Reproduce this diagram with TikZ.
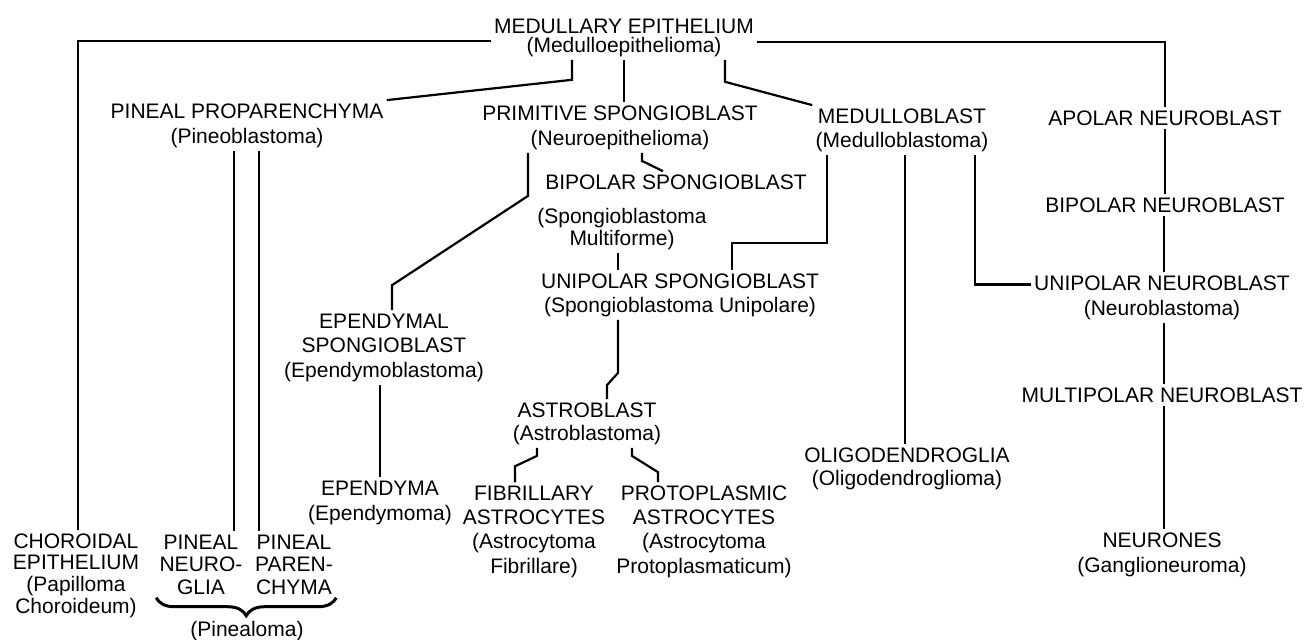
\documentclass[tikz,border=0pt]{standalone}
\usepackage{fontspec}
\setmainfont{Liberation Sans}
\usetikzlibrary{calc,decorations.pathreplacing}
\begin{document}
\begin{tikzpicture}[x=0.5pt,y=-0.5pt,
  lbl/.style={inner sep=1.5pt, align=center, font=\fontsize{10.5}{12}\selectfont},
  sk/.style={font=\fontsize{10.5}{#1}\selectfont},
  conn/.style={line width=1.1pt, line join=miter},
  brc/.style={line width=1.5pt, decorate, decoration={brace, mirror, amplitude=9pt}}]
\useasboundingbox[fill=white] (0,0) rectangle (1304,639);

\node[lbl, sk=9.5] (me) at (624,37.5) {MEDULLARY EPITHELIUM\\(Medulloepithelioma)};
\node[lbl,sk=12.5] (pp) at (247,125.5) {PINEAL PROPARENCHYMA\\(Pineoblastoma)};
\node[lbl,sk=12.5] (ps) at (620,127.5) {PRIMITIVE SPONGIOBLAST\\(Neuroepithelioma)};
\node[lbl,sk=12] (mb) at (902,130) {MEDULLOBLAST\\(Medulloblastoma)};
\node[lbl] (an) at (1165,118) {APOLAR NEUROBLAST};
\node[lbl] (bs) at (676,182) {BIPOLAR SPONGIOBLAST};
\node[lbl,sk=11] (sm) at (622,229) {(Spongioblastoma\\Multiforme)};
\node[lbl,sk=12] (us) at (680,295) {UNIPOLAR SPONGIOBLAST\\(Spongioblastoma Unipolare)};
\node[lbl,sk=12.25] (es) at (384,347.5) {EPENDYMAL\\SPONGIOBLAST\\(Ependymoblastoma)};
\node[lbl,sk=11.5] (ab) at (587,423.5) {ASTROBLAST\\(Astroblastoma)};
\node[lbl,sk=12.5] (ep) at (380,502.5) {EPENDYMA\\(Ependymoma)};
\node[lbl,sk=12.15] (fa) at (534,531.5) {FIBRILLARY\\ASTROCYTES\\(Astrocytoma\\Fibrillare)};
\node[lbl,sk=12.15] (pa) at (704,531.5) {PROTOPLASMIC\\ASTROCYTES\\(Astrocytoma\\Protoplasmaticum)};
\node[lbl,sk=11.5] (og) at (907,468.5) {OLIGODENDROGLIA\\(Oligodendroglioma)};
\node[lbl] (bn) at (1165,205) {BIPOLAR NEUROBLAST};
\node[lbl,sk=12.5] (un) at (1162,297.5) {UNIPOLAR NEUROBLAST\\(Neuroblastoma)};
\node[lbl] (mn) at (1162,395) {MULTIPOLAR NEUROBLAST};
\node[lbl,sk=12.5] (nr) at (1162,554.5) {NEURONES\\(Ganglioneuroma)};
\node[lbl,sk=10.85] (ce) at (76,575.5) {CHOROIDAL\\EPITHELIUM\\(Papilloma\\Choroideum)};
\node[lbl,sk=11.25] (pn) at (201,564.5) {PINEAL\\NEURO-\\GLIA};
\node[lbl,sk=11.25] (pc) at (294,564.5) {PINEAL\\PAREN-\\CHYMA};
\node[lbl] (pl) at (247,631) {(Pinealoma)};

\draw[conn] ($(me.west)+(0,3.5)$) -| ($(ce.north)+(2,0)$);
\draw[conn] ($(me.east)+(0,4.5)$) -| (an.north);
\draw[conn] ($(me.south)+(-52,0)$) -- ++(0,20) -- (pp.north east);
\draw[conn] (me.south) -- (me.south |- ps.north);
\draw[conn] ($(me.south)+(101,0)$) -- ++(0,22) -- (mb.north west);
\draw[conn] ($(ps.south)+(22,0)$) -- ++(0,8) -- ($(bs.north)+(-13,0)$);
\draw[conn] ($(ps.south)+(-92,0)$) -- ++(0,43) -- ($(es.north)+(8,-25)$) -- ($(es.north)+(8,0)$);
\draw[conn] ($(mb.south)+(-75,0)$) |- ($(us.north)+(52,-27)$) -- ($(us.north)+(52,0)$);
\draw[conn] ($(mb.south)+(3,0)$) coordinate (m1) -- (m1 |- og.north);
\draw[conn] ($(mb.south)+(73,0)$) |- ($(un.west)+(0,-13)$);
\draw[conn] ($(sm.south)+(-4,0)$) coordinate (k1) -- (k1 |- us.north);
\draw[conn] ($(us.south)+(-62,0)$) -- ++(0,53) -- ($(ab.north)+(20,-14)$) -- ($(ab.north)+(20,0)$);
\draw[conn] ($(ab.south)+(-50,0)$) -- ++(0,8) -- ($(fa.north)+(-19,-16)$) -- ($(fa.north)+(-19,0)$);
\draw[conn] ($(ab.south)+(45,0)$) -- ++(0,8) -- ($(pa.north)+(-46,-10)$) -- ($(pa.north)+(-46,0)$);
\draw[conn] ($(es.south)+(-4,0)$) coordinate (o1) -- (o1 |- ep.north);
\draw[conn] ($(pp.south)+(-13,0)$) coordinate (p1) -- (p1 |- pn.north);
\draw[conn] ($(pp.south)+(12,0)$) coordinate (p2) -- (p2 |- pc.north);
\draw[conn] (an.south) -- (bn.north);
\draw[conn] ($(bn.south)+(-1,0)$) coordinate (b1) -- (b1 |- un.north);
\draw[conn] ($(un.south)+(2,0)$) coordinate (u1) -- (u1 |- mn.north);
\draw[conn] ($(mn.south)+(2,0)$) coordinate (u2) -- (u2 |- nr.north);
\draw[brc] (pn.south west) -- (pc.south east);
\end{tikzpicture}
\end{document}
